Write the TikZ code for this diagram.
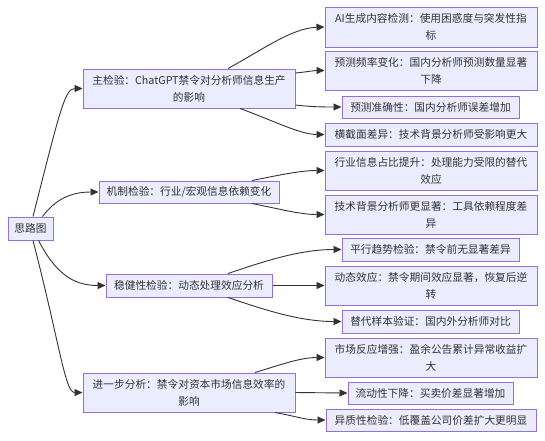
\documentclass[tikz,border=0pt]{standalone}
\usepackage{fontspec}
\setmainfont{Noto Sans CJK SC}
\usetikzlibrary{arrows.meta,calc}
\definecolor{boxfill}{HTML}{ECECFF}
\definecolor{boxline}{HTML}{9370DB}
\definecolor{ink}{HTML}{333333}
\tikzset{
  box/.style={draw=boxline, fill=boxfill, line width=1pt, inner sep=0pt,
    align=center, text=ink, font=\fontsize{10.7}{17}\selectfont},
  link/.style={draw=ink, line width=0.9pt, -{Triangle[length=8pt,width=7pt]}}
}
\begin{document}
\begin{tikzpicture}[x=1pt,y=-1pt]
\useasboundingbox (0,0) rectangle (545,440);
% root
\node[box, minimum width=45pt, minimum height=23pt] (R) at (30.5,228.5) {思路图};
% middle
\node[box, minimum width=212pt, minimum height=39pt] (A) at (189,88.5) {主检验：ChatGPT禁令对分析师信息生产\\的影响};
\node[box, minimum width=180pt, minimum height=22pt] (B) at (189,192) {机制检验：行业/宏观信息依赖变化};
\node[box, minimum width=166pt, minimum height=23pt] (C) at (189,285.5) {稳健性检验：动态处理效应分析};
\node[box, minimum width=212pt, minimum height=39pt] (D) at (189,392.5) {进一步分析：禁令对资本市场信息效率的\\影响};
% leaves
\node[box, minimum width=212pt, minimum height=40pt] (L1) at (431,27) {AI生成内容检测：使用困惑度与突发性指\\标};
\node[box, minimum width=212pt, minimum height=39pt] (L2) at (431,70.5) {预测频率变化：国内分析师预测数量显著\\下降};
\node[box, minimum width=177pt, minimum height=22pt] (L3) at (430.5,107) {预测准确性：国内分析师误差增加};
\node[box, minimum width=212pt, minimum height=23pt] (L4) at (431,134.5) {横截面差异：技术背景分析师受影响更大};
\node[box, minimum width=212pt, minimum height=39pt] (L5) at (431,170.5) {行业信息占比提升：处理能力受限的替代\\效应};
\node[box, minimum width=212pt, minimum height=39pt] (L6) at (431,214.5) {技术背景分析师更显著：工具依赖程度差\\异};
\node[box, minimum width=177pt, minimum height=23pt] (L7) at (430.5,249.5) {平行趋势检验：禁令前无显著差异};
\node[box, minimum width=212pt, minimum height=39pt] (L8) at (431,285.5) {动态效应：禁令期间效应显著，恢复后逆\\转};
\node[box, minimum width=177pt, minimum height=23pt] (L9) at (430.5,321.5) {替代样本验证：国内外分析师对比};
\node[box, minimum width=212pt, minimum height=39pt] (L10) at (431,357.5) {市场反应增强：盈余公告累计异常收益扩\\大};
\node[box, minimum width=165pt, minimum height=22pt] (L11) at (430.5,393) {流动性下降：买卖价差显著增加};
\node[box, minimum width=210pt, minimum height=22pt] (L12) at (431,420) {异质性检验：低覆盖公司价差扩大更明显};
% root edges
\draw[link] ($(R.north)+(2.5,0)$) .. controls (60,110) and (65,88.5) .. (A.west);
\draw[link] ($(R.north)+(12,0)$) .. controls (55,200) and (70,192) .. (B.west);
\draw[link] ($(R.south)+(8,0)$) .. controls (55,272) and (72,285.5) .. (C.west);
\draw[link] ($(R.south)+(2.5,0)$) .. controls (60,345) and (65,392.5) .. (D.west);
% A edges
\draw[link] ($(A.north)+(39,0)$) .. controls (262,50) and (292,28) .. (L1.west);
\draw[link] ($(A.east)+(0,-15.5)$) .. controls (306,72) and (314,70.5) .. (L2.west);
\draw[link] ($(A.east)+(0,16.5)$) .. controls (312,107) and (325,107) .. (L3.west);
\draw[link] ($(A.south)+(51,0)$) .. controls (272,120) and (300,134.5) .. (L4.west);
% B edges
\draw[link] ($(B.north)+(63,0)$) .. controls (280,175) and (300,170.5) .. (L5.west);
\draw[link] ($(B.south)+(63,0)$) .. controls (280,209) and (300,214.5) .. (L6.west);
% C edges
\draw[link] ($(C.north)+(39,0)$) .. controls (265,261) and (300,249.5) .. (L7.west);
\draw[link] (C.east) -- (L8.west);
\draw[link] ($(C.south)+(39,0)$) .. controls (265,310) and (300,321.5) .. (L9.west);
% D edges
\draw[link] ($(D.north)+(66,0)$) .. controls (280,365) and (300,357.5) .. (L10.west);
\draw[link] (D.east) -- (L11.west);
\draw[link] ($(D.south)+(86,0)$) .. controls (295,416) and (305,420) .. (L12.west);
\end{tikzpicture}
\end{document}
